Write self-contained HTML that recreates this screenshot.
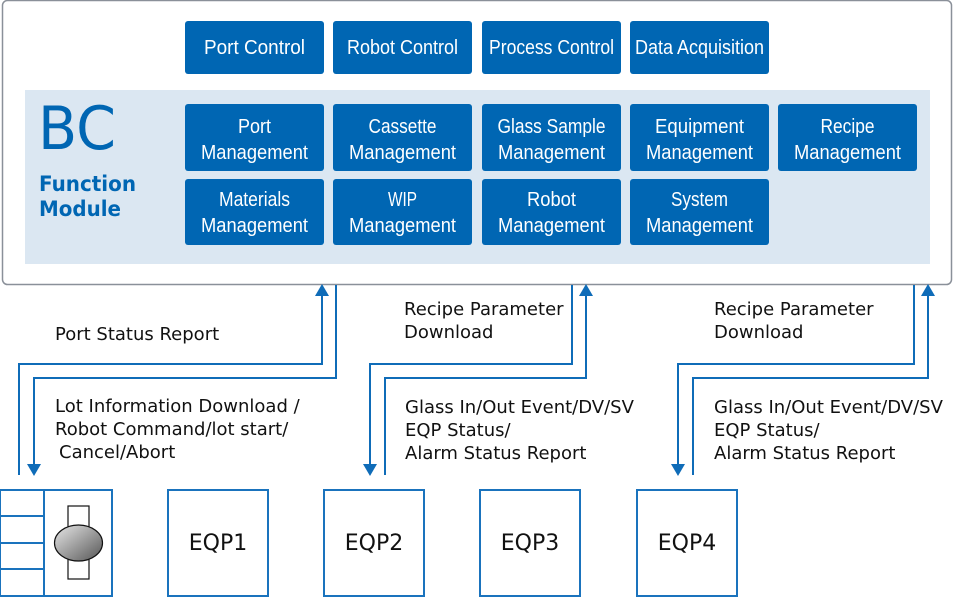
<!DOCTYPE html>
<html><head><meta charset="utf-8"><style>
html,body{margin:0;padding:0;background:#fff;}
svg{display:block;}
.b{fill:#0066b3;}
.bt{fill:#fff;font-family:"Liberation Sans",sans-serif;font-size:20px;text-anchor:middle;}
.l{fill:none;stroke:#0f6cb8;stroke-width:2;}
.t{font-family:"DejaVu Sans","Liberation Sans",sans-serif;font-size:18px;fill:#111;}
.e{font-family:"DejaVu Sans","Liberation Sans",sans-serif;font-size:22px;fill:#111;text-anchor:middle;}
.bx{fill:#fff;stroke:#1a73bd;stroke-width:2;}
</style></head><body>
<svg width="953" height="597" viewBox="0 0 953 597">
<rect x="2.5" y="0.5" width="949" height="284" rx="5" fill="#fff" stroke="#8a9099" stroke-width="1.5"/>
<rect x="25" y="90" width="905" height="174" fill="#dbe7f2"/>
<text x="38" y="149" font-family="DejaVu Sans,Liberation Sans,sans-serif" font-size="60" fill="#0066b3" textLength="78" lengthAdjust="spacingAndGlyphs">BC</text>
<text x="39" y="191" font-family="DejaVu Sans,Liberation Sans,sans-serif" font-size="21" font-weight="bold" fill="#0066b3" textLength="97" lengthAdjust="spacingAndGlyphs">Function</text>
<text x="39" y="216" font-family="DejaVu Sans,Liberation Sans,sans-serif" font-size="21" font-weight="bold" fill="#0066b3" textLength="82" lengthAdjust="spacingAndGlyphs">Module</text>
<g>
<rect class="b" x="185" y="21" width="139" height="53" rx="3"/><text class="bt" x="254.5" y="54" textLength="101" lengthAdjust="spacingAndGlyphs">Port Control</text>
<rect class="b" x="333" y="21" width="139" height="53" rx="3"/><text class="bt" x="402.5" y="54" textLength="111" lengthAdjust="spacingAndGlyphs">Robot Control</text>
<rect class="b" x="482" y="21" width="139" height="53" rx="3"/><text class="bt" x="551.5" y="54" textLength="125" lengthAdjust="spacingAndGlyphs">Process Control</text>
<rect class="b" x="630" y="21" width="139" height="53" rx="3"/><text class="bt" x="699.5" y="54" textLength="129" lengthAdjust="spacingAndGlyphs">Data Acquisition</text>

<rect class="b" x="185" y="104" width="139" height="67" rx="3"/><text class="bt" x="254.5" y="133" textLength="33" lengthAdjust="spacingAndGlyphs">Port</text><text class="bt" x="254.5" y="159" textLength="107" lengthAdjust="spacingAndGlyphs">Management</text>
<rect class="b" x="333" y="104" width="139" height="67" rx="3"/><text class="bt" x="402.5" y="133" textLength="68" lengthAdjust="spacingAndGlyphs">Cassette</text><text class="bt" x="402.5" y="159" textLength="107" lengthAdjust="spacingAndGlyphs">Management</text>
<rect class="b" x="482" y="104" width="139" height="67" rx="3"/><text class="bt" x="551.5" y="133" textLength="108" lengthAdjust="spacingAndGlyphs">Glass Sample</text><text class="bt" x="551.5" y="159" textLength="107" lengthAdjust="spacingAndGlyphs">Management</text>
<rect class="b" x="630" y="104" width="139" height="67" rx="3"/><text class="bt" x="699.5" y="133" textLength="89" lengthAdjust="spacingAndGlyphs">Equipment</text><text class="bt" x="699.5" y="159" textLength="107" lengthAdjust="spacingAndGlyphs">Management</text>
<rect class="b" x="778" y="104" width="139" height="67" rx="3"/><text class="bt" x="847.5" y="133" textLength="54" lengthAdjust="spacingAndGlyphs">Recipe</text><text class="bt" x="847.5" y="159" textLength="107" lengthAdjust="spacingAndGlyphs">Management</text>

<rect class="b" x="185" y="179" width="139" height="66" rx="3"/><text class="bt" x="254.5" y="206" textLength="71" lengthAdjust="spacingAndGlyphs">Materials</text><text class="bt" x="254.5" y="232" textLength="107" lengthAdjust="spacingAndGlyphs">Management</text>
<rect class="b" x="333" y="179" width="139" height="66" rx="3"/><text class="bt" x="402.5" y="206" textLength="29" lengthAdjust="spacingAndGlyphs">WIP</text><text class="bt" x="402.5" y="232" textLength="107" lengthAdjust="spacingAndGlyphs">Management</text>
<rect class="b" x="482" y="179" width="139" height="66" rx="3"/><text class="bt" x="551.5" y="206" textLength="49" lengthAdjust="spacingAndGlyphs">Robot</text><text class="bt" x="551.5" y="232" textLength="107" lengthAdjust="spacingAndGlyphs">Management</text>
<rect class="b" x="630" y="179" width="139" height="66" rx="3"/><text class="bt" x="699.5" y="206" textLength="57" lengthAdjust="spacingAndGlyphs">System</text><text class="bt" x="699.5" y="232" textLength="107" lengthAdjust="spacingAndGlyphs">Management</text>
</g>

<polyline class="l" points="19,475 19,364 322,364 322,295"/>
<polygon fill="#0f6cb8" points="315,296 329,296 322,284"/>
<polyline class="l" points="336,285 336,378 34,378 34,466"/>
<polygon fill="#0f6cb8" points="27,464 41,464 34,476"/>

<polyline class="l" points="572,285 572,364 370,364 370,466"/>
<polygon fill="#0f6cb8" points="363,464 377,464 370,476"/>
<polyline class="l" points="385,475 385,378 586,378 586,295"/>
<polygon fill="#0f6cb8" points="579,296 593,296 586,284"/>

<polyline class="l" points="914,285 914,364 678,364 678,466"/>
<polygon fill="#0f6cb8" points="671,464 685,464 678,476"/>
<polyline class="l" points="693,475 693,378 928,378 928,295"/>
<polygon fill="#0f6cb8" points="921,296 935,296 928,284"/>

<text class="t" x="55" y="340">Port Status Report</text>
<text class="t" x="55" y="412">Lot Information Download /</text>
<text class="t" x="55" y="435">Robot Command/lot start/</text>
<text class="t" x="59" y="458">Cancel/Abort</text>

<text class="t" x="404" y="315">Recipe Parameter</text>
<text class="t" x="404" y="338">Download</text>
<text class="t" x="405" y="413">Glass In/Out Event/DV/SV</text>
<text class="t" x="405" y="436">EQP Status/</text>
<text class="t" x="405" y="459">Alarm Status Report</text>

<text class="t" x="714" y="315">Recipe Parameter</text>
<text class="t" x="714" y="338">Download</text>
<text class="t" x="714" y="413">Glass In/Out Event/DV/SV</text>
<text class="t" x="714" y="436">EQP Status/</text>
<text class="t" x="714" y="459">Alarm Status Report</text>

<rect class="bx" x="0" y="490" width="112" height="106"/>
<line x1="44" y1="490" x2="44" y2="596" stroke="#1a73bd" stroke-width="2"/>
<line x1="0" y1="516" x2="44" y2="516" stroke="#1a73bd" stroke-width="2"/>
<line x1="0" y1="543" x2="44" y2="543" stroke="#1a73bd" stroke-width="2"/>
<line x1="0" y1="569" x2="44" y2="569" stroke="#1a73bd" stroke-width="2"/>
<defs><linearGradient id="g" x1="0" y1="0" x2="1" y2="1"><stop offset="0" stop-color="#e8e8e8"/><stop offset="1" stop-color="#555"/></linearGradient></defs>
<rect x="68" y="506" width="21" height="73" fill="#fff" stroke="#111" stroke-width="1.2"/>
<ellipse cx="78.5" cy="543" rx="24" ry="18" fill="url(#g)" stroke="#111" stroke-width="1.2"/>

<rect class="bx" x="168" y="490" width="100" height="106"/><text class="e" x="218" y="550">EQP1</text>
<rect class="bx" x="324" y="490" width="100" height="106"/><text class="e" x="374" y="550">EQP2</text>
<rect class="bx" x="480" y="490" width="100" height="106"/><text class="e" x="530" y="550">EQP3</text>
<rect class="bx" x="637" y="490" width="100" height="106"/><text class="e" x="687" y="550">EQP4</text>
</svg>
</body></html>
